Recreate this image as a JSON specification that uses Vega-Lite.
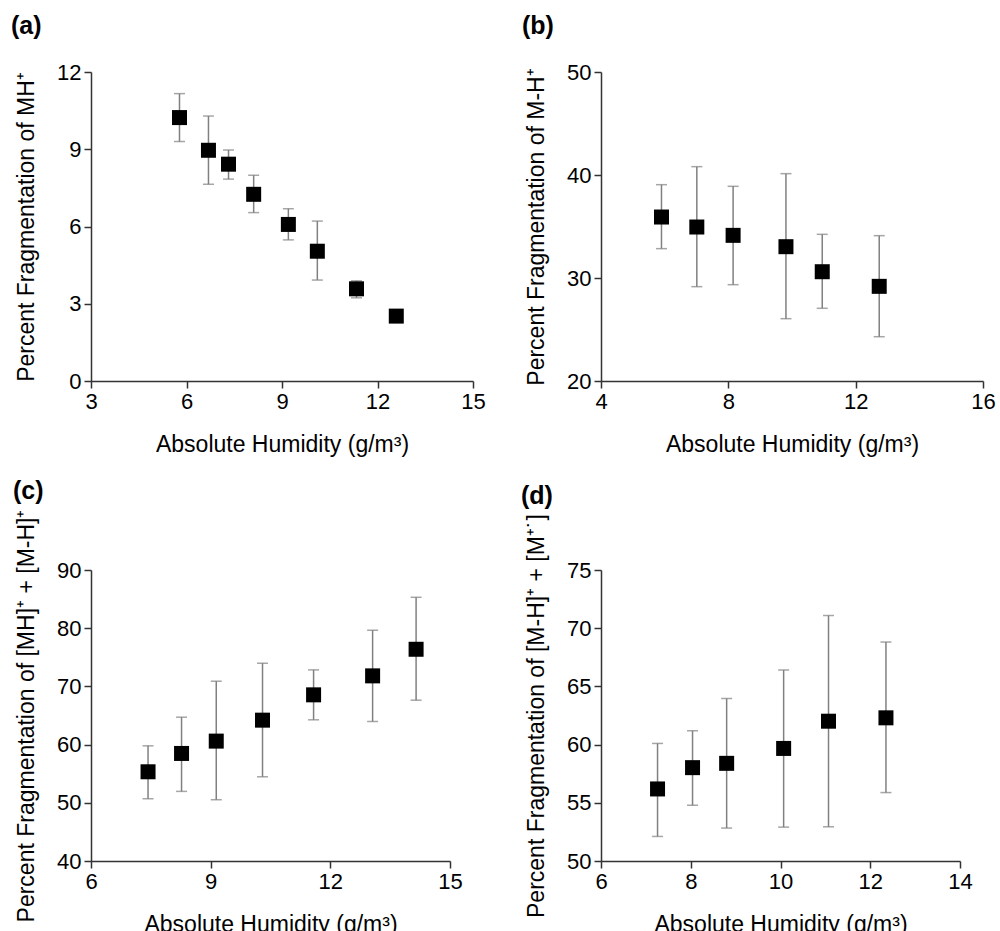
{
  "$schema": "https://vega.github.io/schema/vega-lite/v6.json",
  "padding": {"left": 11, "top": 14, "right": 0, "bottom": 0},
  "background": "white",
  "datasets": {
    "a": [
      {"x": 5.78, "y": 10.23, "lo": 9.30, "hi": 11.16},
      {"x": 6.69, "y": 8.96, "lo": 7.64, "hi": 10.29},
      {"x": 7.32, "y": 8.42, "lo": 7.84, "hi": 8.97},
      {"x": 8.11, "y": 7.25, "lo": 6.54, "hi": 7.99},
      {"x": 9.20, "y": 6.08, "lo": 5.48, "hi": 6.69},
      {"x": 10.11, "y": 5.04, "lo": 3.92, "hi": 6.21},
      {"x": 11.34, "y": 3.58, "lo": 3.23, "hi": 3.89},
      {"x": 12.59, "y": 2.52, "lo": 2.52, "hi": 2.52}
    ],
    "b": [
      {"x": 5.90, "y": 35.92, "lo": 32.85, "hi": 39.06},
      {"x": 7.01, "y": 34.95, "lo": 29.16, "hi": 40.81},
      {"x": 8.15, "y": 34.14, "lo": 29.35, "hi": 38.90},
      {"x": 9.81, "y": 33.04, "lo": 26.05, "hi": 40.13},
      {"x": 10.95, "y": 30.61, "lo": 27.06, "hi": 34.24},
      {"x": 12.74, "y": 29.19, "lo": 24.30, "hi": 34.11}
    ],
    "c": [
      {"x": 7.43, "y": 55.33, "lo": 50.70, "hi": 59.79},
      {"x": 8.27, "y": 58.48, "lo": 51.96, "hi": 64.71},
      {"x": 9.14, "y": 60.60, "lo": 50.53, "hi": 70.89},
      {"x": 10.30, "y": 64.20, "lo": 54.47, "hi": 73.98},
      {"x": 11.58, "y": 68.55, "lo": 64.26, "hi": 72.84},
      {"x": 13.06, "y": 71.81, "lo": 63.97, "hi": 79.65},
      {"x": 14.15, "y": 76.38, "lo": 67.63, "hi": 85.31}
    ],
    "d": [
      {"x": 7.26, "y": 56.19, "lo": 52.11, "hi": 60.10},
      {"x": 8.04, "y": 58.02, "lo": 54.79, "hi": 61.19},
      {"x": 8.80, "y": 58.39, "lo": 52.83, "hi": 63.96},
      {"x": 10.07, "y": 59.67, "lo": 52.91, "hi": 66.41},
      {"x": 11.07, "y": 62.01, "lo": 52.94, "hi": 71.09},
      {"x": 12.35, "y": 62.30, "lo": 55.88, "hi": 68.81}
    ]
  },
  "columns": 2,
  "bounds": "flush",
  "spacing": {"column": 128, "row": 189},
  "concat": [
    {
      "width": 382, "height": 309,
      "title": {"text": "(a)", "dx": -80, "offset": 22},
      "data": {"name": "a"},
      "layer": [
        {
          "mark": {"type": "errorbar", "color": "#808080", "thickness": 1.5, "size": 11, "ticks": true},
          "encoding": {
            "x": {"field": "x", "type": "quantitative", "scale": {"domain": [3, 15], "nice": false, "zero": false}, "axis": {"values": [3, 6, 9, 12, 15], "title": "Absolute Humidity (g/m³)"}},
            "y": {"field": "lo", "type": "quantitative", "scale": {"domain": [0, 12], "nice": false, "zero": false}, "axis": {"values": [0, 3, 6, 9, 12], "title": "Percent Fragmentation of MH⁺"}},
            "y2": {"field": "hi"}
          }
        },
        {
          "mark": {"type": "square", "size": 225, "color": "black", "opacity": 1, "filled": true},
          "encoding": {
            "x": {"field": "x", "type": "quantitative", "axis": {"values": [3, 6, 9, 12, 15], "title": "Absolute Humidity (g/m³)"}},
            "y": {"field": "y", "type": "quantitative", "axis": {"values": [0, 3, 6, 9, 12], "title": "Percent Fragmentation of MH⁺"}}
          }
        }
      ]
    },
    {
      "width": 382, "height": 309,
      "title": {"text": "(b)", "dx": -79, "offset": 22},
      "data": {"name": "b"},
      "layer": [
        {
          "mark": {"type": "errorbar", "color": "#808080", "thickness": 1.5, "size": 11, "ticks": true},
          "encoding": {
            "x": {"field": "x", "type": "quantitative", "scale": {"domain": [4, 16], "nice": false, "zero": false}, "axis": {"values": [4, 8, 12, 16], "title": "Absolute Humidity (g/m³)"}},
            "y": {"field": "lo", "type": "quantitative", "scale": {"domain": [20, 50], "nice": false, "zero": false}, "axis": {"values": [20, 30, 40, 50], "title": "Percent Fragmentation of M-H⁺"}},
            "y2": {"field": "hi"}
          }
        },
        {
          "mark": {"type": "square", "size": 225, "color": "black", "opacity": 1, "filled": true},
          "encoding": {
            "x": {"field": "x", "type": "quantitative", "axis": {"values": [4, 8, 12, 16], "title": "Absolute Humidity (g/m³)"}},
            "y": {"field": "y", "type": "quantitative", "axis": {"values": [20, 30, 40, 50], "title": "Percent Fragmentation of M-H⁺"}}
          }
        }
      ]
    },
    {
      "width": 359, "height": 291,
      "title": {"text": "(c)", "dx": -78, "offset": 5},
      "data": {"name": "c"},
      "layer": [
        {
          "mark": {"type": "errorbar", "color": "#808080", "thickness": 1.5, "size": 11, "ticks": true},
          "encoding": {
            "x": {"field": "x", "type": "quantitative", "scale": {"domain": [6, 15], "nice": false, "zero": false}, "axis": {"values": [6, 9, 12, 15], "title": "Absolute Humidity (g/m³)"}},
            "y": {"field": "lo", "type": "quantitative", "scale": {"domain": [40, 90], "nice": false, "zero": false}, "axis": {"values": [40, 50, 60, 70, 80, 90], "title": "Percent Fragmentation of [MH]⁺ + [M-H]⁺"}},
            "y2": {"field": "hi"}
          }
        },
        {
          "mark": {"type": "square", "size": 225, "color": "black", "opacity": 1, "filled": true},
          "encoding": {
            "x": {"field": "x", "type": "quantitative", "axis": {"values": [6, 9, 12, 15], "title": "Absolute Humidity (g/m³)"}},
            "y": {"field": "y", "type": "quantitative", "axis": {"values": [40, 50, 60, 70, 80, 90], "title": "Percent Fragmentation of [MH]⁺ + [M-H]⁺"}}
          }
        }
      ]
    },
    {
      "width": 359, "height": 291,
      "title": {"text": "(d)", "dx": -80, "offset": 5},
      "data": {"name": "d"},
      "layer": [
        {
          "mark": {"type": "errorbar", "color": "#808080", "thickness": 1.5, "size": 11, "ticks": true},
          "encoding": {
            "x": {"field": "x", "type": "quantitative", "scale": {"domain": [6, 14], "nice": false, "zero": false}, "axis": {"values": [6, 8, 10, 12, 14], "title": "Absolute Humidity (g/m³)"}},
            "y": {"field": "lo", "type": "quantitative", "scale": {"domain": [50, 75], "nice": false, "zero": false}, "axis": {"values": [50, 55, 60, 65, 70, 75], "title": "Percent Fragmentation of [M-H]⁺ + [M⁺˙]"}},
            "y2": {"field": "hi"}
          }
        },
        {
          "mark": {"type": "square", "size": 225, "color": "black", "opacity": 1, "filled": true},
          "encoding": {
            "x": {"field": "x", "type": "quantitative", "axis": {"values": [6, 8, 10, 12, 14], "title": "Absolute Humidity (g/m³)"}},
            "y": {"field": "y", "type": "quantitative", "axis": {"values": [50, 55, 60, 65, 70, 75], "title": "Percent Fragmentation of [M-H]⁺ + [M⁺˙]"}}
          }
        }
      ]
    }
  ],
  "config": {
    "font": "Liberation Sans",
    "view": {"stroke": null},
    "axis": {
      "grid": false,
      "domainColor": "#333333",
      "domainWidth": 1.5,
      "tickColor": "#333333",
      "tickWidth": 1.5,
      "tickSize": 7,
      "labelFont": "Liberation Sans",
      "labelFontSize": 22,
      "labelColor": "#000000",
      "labelPadding": 3,
      "labelOverlap": false,
      "labelFlush": false,
      "titleFont": "Liberation Sans",
      "titleFontSize": 23,
      "titleFontWeight": "normal",
      "titleColor": "#000000"
    },
    "axisX": {"titlePadding": 21},
    "axisY": {"titlePadding": 18},
    "title": {"fontSize": 25, "fontWeight": "bold", "anchor": "start", "frame": "group", "color": "#000000", "font": "Liberation Sans"}
  }
}
